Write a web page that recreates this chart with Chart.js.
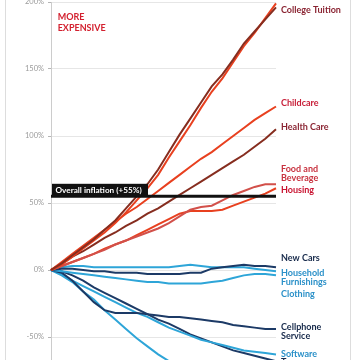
<!DOCTYPE html>
<html>
<head>
<meta charset="utf-8">
<script src="https://cdn.jsdelivr.net/npm/chart.js@4.4.1/dist/chart.umd.min.js"></script>
<style>
  html, body { margin: 0; padding: 0; background: #fff; overflow: hidden; }
  #wrap { position: relative; width: 360px; height: 360px; overflow: hidden; }
  #wrap canvas { position: absolute; left: 0; top: -10px; }
</style>
</head>
<body>
<div id="wrap"><canvas id="myChart" width="360" height="426"></canvas></div>
<script>
// Jan 1997 .. Dec 2017, one point a year, % change since Jan 1997
let years = ['1997', '1998', '1999', '2000', '2001', '2002', '2003', '2004', '2005', '2006', '2007',
  '2008', '2009', '2010', '2011', '2012', '2013', '2014', '2015', '2016', '2017', 'Dec 2017'];

let tuitionA = [0, 5, 11, 17, 23, 30, 37, 46, 55, 64, 75, 88, 101, 113, 125, 137, 146, 157, 169, 178, 187, 196];
let tuitionB = [0, 4, 10, 16, 22, 28, 35, 43, 52, 61, 71, 84, 96, 108, 121, 133, 143, 155, 167, 177, 188, 199];
let childcare = [0, 6, 12, 18, 24, 30, 36, 42, 47, 53, 59, 65, 71, 77, 83, 88, 94, 100, 106, 112, 117, 122];
let healthCare = [0, 5, 10, 14, 19, 24, 28, 33, 37, 42, 46, 51, 56, 61, 66, 71, 76, 81, 86, 92, 98, 105];
let foodBeverage = [0, 3, 6, 9, 12, 15, 19, 22, 25, 28, 31, 35, 40, 45, 47, 48, 52, 56, 59, 62, 64, 64];
let housing = [0, 3, 6, 9, 12, 16, 19, 22, 26, 30, 34, 38, 42, 44, 44, 44, 45, 48, 51, 54, 57, 61];
let overallInflation = 55;

let newCars = [0, 1, 1, 0, -1, -1, -2, -2, -2, -3, -3, -3, -3, -2, -2, 1, 2, 3, 4, 3, 3, 2];
let furnishings = [0, 2, 3, 3, 2, 2, 2, 2, 2, 2, 2, 2, 3, 4, 3, 2, 2, 2, 2, 1, 0, -1];
let clothing = [0, -1, -2, -3, -4, -5, -6, -7, -8, -9, -9, -10, -10, -10, -10, -9, -8, -6, -4, -3, -3, -4];
let cellphone = [0, -2, -8, -16, -24, -30, -32, -32, -32, -33, -34, -35, -35, -36, -37, -38, -39, -41, -42, -43, -44, -44];
let software = [0, -3, -8, -12, -16, -20, -24, -28, -32, -35, -39, -43, -46, -49, -52, -54, -56, -58, -60, -61, -62, -63];
let toys = [0, -1, -4, -8, -13, -17, -21, -25, -29, -33, -37, -40, -44, -48, -51, -54, -57, -60, -62, -64, -66, -68];
let tvs = [0, -4, -9, -16, -22, -30, -37, -44, -51, -57, -63, -68, -72, -76, -80, -84, -87, -89, -91, -93, -94, -96];

let brown = '#862d1f';
let red = '#e8401f';
let rose = '#d2504a';
let navy = '#1c3a66';
let sky = '#2ea5d8';

// right-hand labels, anchored in value space
let endLabels = [
  { lines: ['College Tuition'], at: 194, color: '#8a2432' },
  { lines: ['Childcare'], at: 124.6, color: '#c8203a' },
  { lines: ['Health Care'], at: 107, color: '#8a2432' },
  { lines: ['Food and', 'Beverage'], at: 75.1, color: '#c8323f' },
  { lines: ['Housing'], at: 59.5, color: '#c8102e' },
  { lines: ['New Cars'], at: 8.7, color: '#16294a' },
  { lines: ['Household', 'Furnishings'], at: -2.5, color: '#2a90c8' },
  { lines: ['Clothing'], at: -18.1, color: '#2a90c8' },
  { lines: ['Cellphone', 'Service'], at: -42.5, color: '#16294a' },
  { lines: ['Software'], at: -62.9, color: '#2a90c8' },
  { lines: ['Toys'], at: -68.8, color: '#16294a' },
];

function series(label, data, color) {
  return {
    label: label,
    data: data,
    borderColor: color,
    borderWidth: 2,
    pointRadius: 0,
    tension: 0,
  };
}

let annotations = {
  id: 'annotations',
  afterDatasetsDraw(chart) {
    let c = chart.ctx;
    let area = chart.chartArea;
    let y = chart.scales.y;

    // thin frame at both sides
    c.save();
    c.strokeStyle = '#dddddd';
    c.lineWidth = 1;
    c.beginPath();
    c.moveTo(5.5, 0);
    c.lineTo(5.5, chart.height);
    c.moveTo(350.5, 0);
    c.lineTo(350.5, chart.height);
    c.stroke();

    // overall inflation tag
    let yi = y.getPixelForValue(overallInflation);
    c.fillStyle = '#111111';
    c.fillRect(area.left + 1, yi - 12.5, 96, 13);
    c.fillStyle = '#ffffff';
    c.font = 'bold 8.2px Lato';
    c.textBaseline = 'middle';
    c.textAlign = 'left';
    c.fillText('Overall inflation (+55%)', area.left + 4.5, yi - 6);

    c.fillStyle = '#d3202f';
    c.font = 'bold 9px Lato';
    c.fillText('MORE', 57.7, y.getPixelForValue(188.8));
    c.fillText('EXPENSIVE', 57.7, y.getPixelForValue(180.8));

    endLabels.forEach(function (item) {
      c.fillStyle = item.color;
      let top = y.getPixelForValue(item.at);
      item.lines.forEach(function (line, i) {
        c.fillText(line, area.right + 5, top + i * 9);
      });
    });
    c.restore();
  },
};

let ctx = document.getElementById('myChart').getContext('2d');
let myChart = new Chart(ctx, {
  type: 'line',
  data: {
    labels: years,
    datasets: [
      {
        label: 'Overall inflation',
        data: [{ x: years[0], y: overallInflation }, { x: years[years.length - 1], y: overallInflation }],
        borderColor: '#111111',
        borderWidth: 3,
        pointRadius: 0,
      },
      series('College Tuition', tuitionA, brown),
      series('College Tuition (2)', tuitionB, red),
      series('Childcare', childcare, red),
      series('Health Care', healthCare, brown),
      series('Food and Beverage', foodBeverage, rose),
      series('Housing', housing, red),
      series('New Cars', newCars, navy),
      series('Household Furnishings', furnishings, sky),
      series('Clothing', clothing, sky),
      series('Cellphone Service', cellphone, navy),
      series('Software', software, sky),
      series('Toys', toys, navy),
      series('TVs', tvs, sky),
    ],
  },
  options: {
    responsive: false,
    animation: false,
    layout: { padding: { left: 0, right: 84, top: 12, bottom: 12 } },
    plugins: {
      legend: { display: false },
      tooltip: { enabled: false },
    },
    scales: {
      x: { display: false },
      y: {
        min: -100,
        max: 200,
        ticks: {
          stepSize: 50,
          padding: 4,
          color: '#9a9a9a',
          font: { family: 'Lato', size: 7.5 },
          callback: function (v) { return v + '%'; },
        },
        grid: { color: '#e6e6e6', tickColor: '#b5b5b5', tickLength: 3 },
        border: { color: '#cccccc' },
        afterFit: function (scale) { scale.width = 51; },
      },
    },
  },
  plugins: [annotations],
});
</script>
</body>
</html>
